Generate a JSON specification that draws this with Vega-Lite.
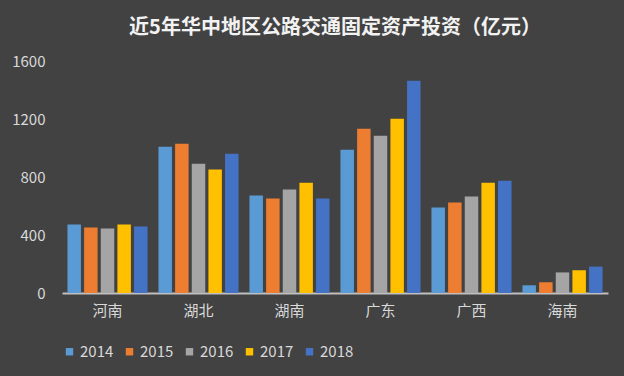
{
  "$schema": "https://vega.github.io/schema/vega-lite/v6.json",
  "width": 546,
  "height": 232,
  "autosize": {"type": "none"},
  "padding": {"left": 62, "top": 61, "right": 16, "bottom": 83},
  "background": "#424242",
  "title": {
    "text": "近5年华中地区公路交通固定资产投资（亿元）",
    "font": "Noto Sans CJK SC",
    "fontSize": 20,
    "fontWeight": "bold",
    "color": "#f2f2f2",
    "anchor": "middle",
    "offset": 16
  },
  "data": {
    "values": [
      {"province": "河南", "year": "2014", "value": 472},
      {"province": "河南", "year": "2015", "value": 452},
      {"province": "河南", "year": "2016", "value": 445},
      {"province": "河南", "year": "2017", "value": 472},
      {"province": "河南", "year": "2018", "value": 459},
      {"province": "湖北", "year": "2014", "value": 1009},
      {"province": "湖北", "year": "2015", "value": 1030},
      {"province": "湖北", "year": "2016", "value": 892},
      {"province": "湖北", "year": "2017", "value": 851},
      {"province": "湖北", "year": "2018", "value": 961},
      {"province": "湖南", "year": "2014", "value": 672},
      {"province": "湖南", "year": "2015", "value": 651},
      {"province": "湖南", "year": "2016", "value": 713},
      {"province": "湖南", "year": "2017", "value": 761},
      {"province": "湖南", "year": "2018", "value": 651},
      {"province": "广东", "year": "2014", "value": 988},
      {"province": "广东", "year": "2015", "value": 1133},
      {"province": "广东", "year": "2016", "value": 1084},
      {"province": "广东", "year": "2017", "value": 1201},
      {"province": "广东", "year": "2018", "value": 1463},
      {"province": "广西", "year": "2014", "value": 590},
      {"province": "广西", "year": "2015", "value": 624},
      {"province": "广西", "year": "2016", "value": 665},
      {"province": "广西", "year": "2017", "value": 761},
      {"province": "广西", "year": "2018", "value": 775},
      {"province": "海南", "year": "2014", "value": 53},
      {"province": "海南", "year": "2015", "value": 74},
      {"province": "海南", "year": "2016", "value": 142},
      {"province": "海南", "year": "2017", "value": 157},
      {"province": "海南", "year": "2018", "value": 182}
    ]
  },
  "mark": {"type": "bar"},
  "encoding": {
    "x": {
      "field": "province",
      "type": "nominal",
      "sort": ["河南", "湖北", "湖南", "广东", "广西", "海南"],
      "scale": {"paddingInner": 0.12, "paddingOuter": 0.06},
      "axis": {
        "title": null,
        "labelAngle": 0,
        "labelFont": "Noto Sans CJK SC",
        "labelFontSize": 15,
        "labelColor": "#d9d9d9",
        "labelPadding": 10,
        "ticks": false,
        "domainColor": "#bfbfbf",
        "domainWidth": 2,
        "grid": false
      }
    },
    "xOffset": {
      "field": "year",
      "type": "nominal",
      "scale": {"paddingInner": 0.19, "paddingOuter": 0}
    },
    "y": {
      "field": "value",
      "type": "quantitative",
      "scale": {"domain": [0, 1600]},
      "axis": {
        "title": null,
        "values": [0, 400, 800, 1200, 1600],
        "format": "d",
        "labelFont": "Noto Sans CJK SC",
        "labelFontSize": 15,
        "labelColor": "#d9d9d9",
        "labelPadding": 17,
        "ticks": false,
        "domain": false,
        "grid": false
      }
    },
    "color": {
      "field": "year",
      "type": "nominal",
      "scale": {
        "domain": ["2014", "2015", "2016", "2017", "2018"],
        "range": ["#5b9bd5", "#ed7d31", "#a5a5a5", "#ffc000", "#4472c4"]
      },
      "legend": {
        "title": null,
        "orient": "bottom",
        "direction": "horizontal",
        "offset": 26,
        "symbolType": "square",
        "symbolSize": 55,
        "symbolStrokeWidth": 0,
        "labelFont": "Noto Sans CJK SC",
        "labelFontSize": 15,
        "labelColor": "#d9d9d9",
        "columnPadding": 8,
        "labelOffset": 3
      }
    }
  },
  "config": {
    "view": {"stroke": null}
  }
}
